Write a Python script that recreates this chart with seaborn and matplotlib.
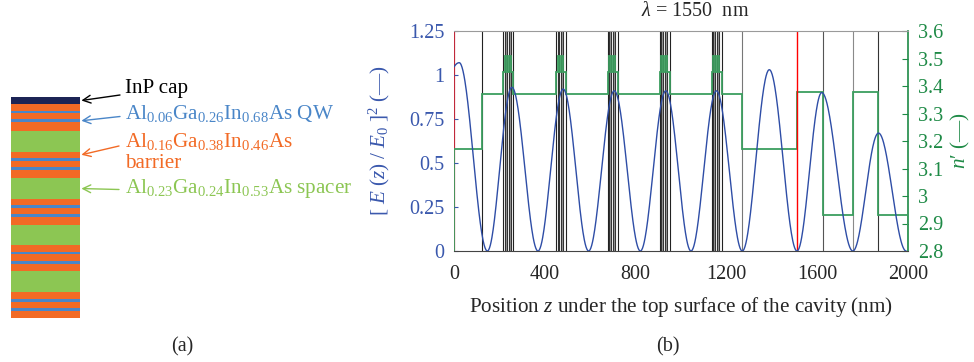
import numpy as np
import matplotlib
matplotlib.use("Agg")
import matplotlib.pyplot as plt
import seaborn as sns

# ---------------- data ----------------
# panel (a): layer stack, top to bottom (relative thickness, colour class)
stack_kind = (["cap"] +
              ["bar", "qw", "bar", "qw", "bar", "spc"] * 4 +
              ["bar", "qw", "bar", "qw", "bar"])
stack_thick = [7.0,
               6.7, 2.7, 6.0, 2.7, 9.0, 20.7,
               6.0, 2.7, 6.7, 2.7, 8.0, 21.3,
               6.0, 2.7, 6.0, 3.0, 8.3, 20.0,
               6.3, 2.7, 6.3, 3.0, 7.7, 21.0,
               6.7, 2.7, 6.7, 2.7, 7.0]
stack_colors = {"cap": "#1c2455", "bar": "#f26a25", "qw": "#4a86c8", "spc": "#8cc653"}

# panel (b): refractive-index profile (layer thickness in nm, n')
layer_thick = ([124, 94] +
               [8, 7, 9, 9, 11, 186] +
               [8, 7, 9, 9, 11, 185] +
               [8, 7, 9, 9, 11, 185] +
               [8, 7, 9, 9, 11, 185] +
               [8, 7, 9, 9, 11, 89] +
               [243, 114, 132, 113, 130])
layer_n = ([3.17, 3.37] +
           [3.45, 3.51, 3.45, 3.51, 3.45, 3.37] * 5 +
           [3.17, 3.38, 2.93, 3.38, 2.93])
# colour of the line at the lower (left) boundary of each layer
layer_line = (["none", "#222222"] +
              ["#222222", "#333333", "#333333", "#333333", "#333333", "#222222"] * 5 +
              ["#777777", "red", "#555555", "#8a8a8a", "#333333"])
layer_is_well = ([False, False] +
                 [False, True, False, True, False, False] * 5 +
                 [False] * 5)

# |E|^2 standing wave: zeros (nm), lobe peak positions (nm) and peak values
field_zeros = [-217, 147, 370, 593, 821, 1044, 1270, 1511, 1757, 1992]
field_peak_pos = [23, 255, 481, 706, 933, 1156, 1389, 1620, 1870]
field_peak_val = [1.07, 0.93, 0.92, 0.91, 0.91, 0.91, 1.03, 0.90, 0.67]

x_ticks = [0, 400, 800, 1200, 1600, 2000]
left_ticks = [0, 0.25, 0.5, 0.75, 1.0, 1.25]
left_labels = ["0", "0.25", "0.5", "0.75", "1", "1.25"]
right_ticks = [2.8, 2.9, 3.0, 3.1, 3.2, 3.3, 3.4, 3.5, 3.6]
right_labels = ["2.8", "2.9", "3", "3.1", "3.2", "3.3", "3.4", "3.5", "3.6"]

# ---------------- style ----------------
sns.set_style("ticks")
plt.rcParams["font.family"] = ["Liberation Serif", "DejaVu Serif"]
plt.rcParams["mathtext.fontset"] = "custom"
plt.rcParams["mathtext.rm"] = "Liberation Serif"
plt.rcParams["mathtext.it"] = "Liberation Serif:italic"
plt.rcParams["mathtext.bf"] = "Liberation Serif:bold"

BLUE_LINE = "#2e4da6"
BLUE_TXT = "#3a58ad"
GREEN_LINE = "#3c9e5f"
GREEN_AX = "#1e8a46"
FS = 14.5
LFS = 15.2

W, H = 974, 362
fig = plt.figure(figsize=(W / 100, H / 100), dpi=100)

# ---------------- panel (a) ----------------
axa = fig.add_axes([11 / W, (H - 318) / H, 69 / W, 221 / H])
bottoms = np.concatenate([[0], np.cumsum(stack_thick)[:-1]])
axa.bar([0] * len(stack_thick), stack_thick, bottom=bottoms, width=1.0,
        color=[stack_colors[k] for k in stack_kind], linewidth=0, align="center")
axa.set_xlim(-0.5, 0.5)
axa.set_ylim(sum(stack_thick), 0)
axa.axis("off")

centers = bottoms + np.array(stack_thick) / 2
arrows = [
    ("InP cap", "black", 0, (120, H - 95), (125, H - 88)),
    (r"Al$_{\mathrm{0.06}}$Ga$_{\mathrm{0.26}}$In$_{\mathrm{0.68}}$As QW", "#4a86c8", 4,
     (120, H - 116.5), (125, H - 113)),
    (r"Al$_{\mathrm{0.16}}$Ga$_{\mathrm{0.38}}$In$_{\mathrm{0.46}}$As", "#f26a25", 7,
     (119, H - 146), (125, H - 142)),
    (r"Al$_{\mathrm{0.23}}$Ga$_{\mathrm{0.24}}$In$_{\mathrm{0.53}}$As spacer", "#8cc653", 12,
     (119, H - 189.5), (125, H - 189)),
]
for txt, col, idx, tail, tpos in arrows:
    axa.annotate("", xy=(1.02, centers[idx]), xycoords=("axes fraction", "data"),
                 xytext=tail, textcoords="figure pixels",
                 arrowprops=dict(arrowstyle="->", color=col, lw=1.0,
                                 shrinkA=0, shrinkB=0, mutation_scale=14))
    fig.text(tpos[0] / W, tpos[1] / H, txt, color=col, fontsize=LFS,
             ha="left", va="center")
fig.text(125 / W, (H - 163) / H, "barrier", color="#f26a25", fontsize=LFS,
         ha="left", va="center")
fig.text(182 / W, (H - 347) / H, "(a)", fontsize=FS, ha="center", va="center")
fig.text(668 / W, (H - 347) / H, "(b)", fontsize=FS, ha="center", va="center")

# ---------------- panel (b) ----------------
ax = fig.add_axes([454 / W, (H - 251) / H, 454 / W, 220 / H])
ax2 = ax.twinx()
ax.set_zorder(ax2.get_zorder() + 1)
ax.patch.set_visible(False)

edges = np.concatenate([[0], np.cumsum(layer_thick)])
# grey wells and layer boundaries
for i in range(len(layer_thick)):
    if layer_is_well[i]:
        ax2.axvspan(edges[i], edges[i + 1], color="#9a9a9a", lw=0, zorder=0.5)
    c = layer_line[i]
    if c != "none":
        ax2.axvline(edges[i], color=c, lw=0.8 if c != "red" else 1.0,
                    zorder=4 if c == "red" else 1)
ax2.axvline(0, color="#c0283a", lw=1.6, zorder=1)
ax2.stairs(layer_n, edges, baseline=2.8, color=GREEN_LINE, lw=1.3, zorder=3)

# field curve built from the read extrema (half-sine lobes)
xs, ys = [], []
for i in range(len(field_peak_pos)):
    z0, z1 = field_zeros[i], field_zeros[i + 1]
    p, a = field_peak_pos[i], field_peak_val[i]
    left = np.linspace(max(z0, 0), p, 60)
    right = np.linspace(p, z1, 60)[1:]
    xs += list(left) + list(right)
    ys += list(a * np.sin(np.pi / 2 * (left - z0) / (p - z0)) ** 2)
    ys += list(a * np.sin(np.pi / 2 * (z1 - right) / (z1 - p)) ** 2)
sns.lineplot(x=xs, y=ys, ax=ax, color=BLUE_LINE, lw=1.0, sort=False,
             estimator=None, zorder=5)

ax.set_xlim(0, 2000)
ax.set_ylim(0, 1.25)
ax2.set_ylim(2.8, 3.6)
ax.set_xticks(x_ticks)
ax.set_xticklabels([str(t) for t in x_ticks], fontsize=FS)
ax.set_yticks(left_ticks)
ax.set_yticklabels(left_labels, fontsize=FS, color=BLUE_TXT)
ax2.set_yticks(right_ticks)
ax2.set_yticklabels(right_labels, fontsize=FS, color=GREEN_AX)
ax.tick_params(axis="x", direction="in", length=0, pad=10)
ax.tick_params(axis="y", direction="in", length=3, pad=7, color=BLUE_TXT)
ax2.tick_params(axis="y", direction="in", length=4, pad=7, color=GREEN_AX)

for s in ["left", "right"]:
    ax.spines[s].set_visible(False)
ax.spines["top"].set_color("#9a9a9a")
ax.spines["bottom"].set_color("#444444")
for s in ["left", "top", "bottom"]:
    ax2.spines[s].set_visible(False)
ax2.spines["right"].set_color(GREEN_AX)
ax2.spines["right"].set_linewidth(1.2)

ax.set_xlabel(r"Position $z$ under the top surface of the cavity (nm)", fontsize=LFS,
              labelpad=8)
ax.set_ylabel(r"$[\ E\ (z)\ /\ E_{0}\ ]^{2}$ (—)", fontsize=LFS, color=BLUE_TXT,
              labelpad=12)
ax2.set_ylabel(r"$n$′ (—)", fontsize=LFS, color=GREEN_AX, labelpad=4)
fig.text(695 / W, (H - 12) / H, r"$\lambda$ = 1550  nm", fontsize=FS,
         ha="center", va="center")

fig.savefig("out.png", dpi=100)
